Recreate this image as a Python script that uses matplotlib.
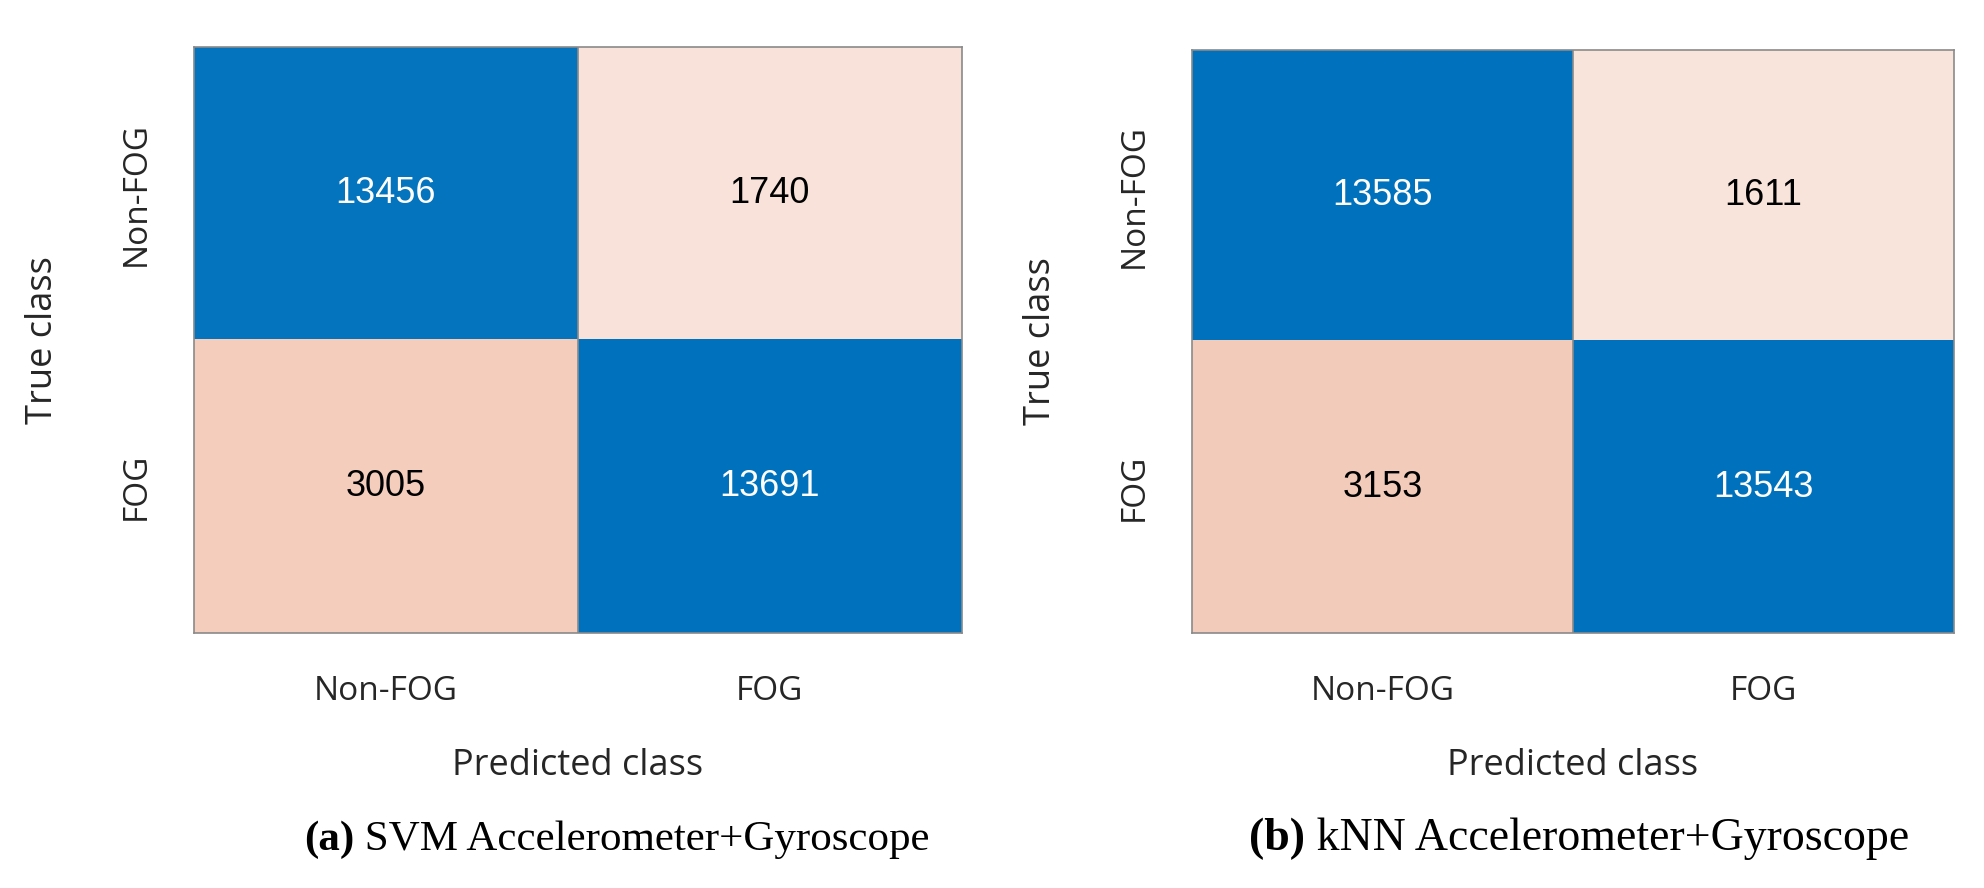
import numpy as np
import matplotlib
matplotlib.use("Agg")
import matplotlib.pyplot as plt
from matplotlib.colors import LinearSegmentedColormap, Normalize

# Confusion matrices (rows: true class, cols: predicted class)
class_labels = ["Non-FOG", "FOG"]
svm_counts = [[13456, 1740],
              [3005, 13691]]
knn_counts = [[13585, 1611],
              [3153, 13543]]
panel_tags = ["(a)", "(b)"]
panel_titles = [" SVM Accelerometer+Gyroscope", " kNN Accelerometer+Gyroscope"]
caption_centres = [0.311, 0.796]
caption_sizes = [31, 33]

BLUE = "#0072BD"
RED = "#D95319"
blue_cmap = LinearSegmentedColormap.from_list("diag", ["white", BLUE])
red_cmap = LinearSegmentedColormap.from_list("off", ["white", RED])

SANS = ["Open Sans", "DejaVu Sans"]
NUM = ["Liberation Sans", "DejaVu Sans"]
SERIF = ["Liberation Serif", "DejaVu Serif"]
TXT = "#262626"


def draw_confusion(ax, counts):
    cm = np.array(counts)
    n = cm.shape[0]
    diag_mask = np.eye(n, dtype=bool)
    diag = np.ma.masked_where(~diag_mask, cm)
    off = np.ma.masked_where(diag_mask, cm)
    ax.imshow(diag, cmap=blue_cmap, norm=Normalize(0, cm.max()), aspect="auto")
    ax.imshow(off, cmap=red_cmap, norm=Normalize(0, 10500), aspect="auto")

    for i in range(n):
        for j in range(n):
            color = "white" if i == j else "black"
            ax.text(j, i, str(cm[i, j]), ha="center", va="center",
                    color=color, fontsize=26, family=NUM)

    # thin cell separator
    ax.axvline(0.5, color="#8a8a8a", linewidth=1.2)

    ax.set_xticks(range(n))
    ax.set_yticks(range(n))
    ax.set_xticklabels(class_labels, family=SANS, fontsize=24, color=TXT)
    ax.set_yticklabels(class_labels, family=SANS, fontsize=24, color=TXT,
                       rotation=90, va="center")
    ax.tick_params(length=0)
    ax.tick_params(axis="y", pad=30)
    ax.tick_params(axis="x", pad=30)
    ax.set_xlabel("Predicted class", family=SANS, fontsize=26, color=TXT, labelpad=29)
    ax.set_ylabel("True class", family=SANS, fontsize=26, color=TXT, labelpad=42)
    for sp in ax.spines.values():
        sp.set_color("#8a8a8a")
        sp.set_linewidth(1.2)


fig = plt.figure(figsize=(19.84, 8.88), dpi=100)
ax1 = fig.add_axes([0.0978, 0.287, 0.387, 0.660])
ax2 = fig.add_axes([0.6008, 0.287, 0.384, 0.657])

for ax, counts, tag, title, cx, fs in zip([ax1, ax2], [svm_counts, knn_counts],
                                          panel_tags, panel_titles,
                                          caption_centres, caption_sizes):
    draw_confusion(ax, counts)
    fig.text(cx, 0.043, tag, ha="right", va="baseline", fontsize=fs,
             fontweight="bold", family=SERIF)
    fig.text(cx, 0.043, title, ha="left", va="baseline", fontsize=fs, family=SERIF)

# shift captions so the whole line is centred on its anchor
fig.canvas.draw()
renderer = fig.canvas.get_renderer()
texts = fig.texts
for k in range(0, len(texts), 2):
    a, b = texts[k], texts[k + 1]
    wa = a.get_window_extent(renderer).width / fig.bbox.width
    wb = b.get_window_extent(renderer).width / fig.bbox.width
    shift = (wa - wb) / 2
    a.set_x(a.get_position()[0] + shift)
    b.set_x(b.get_position()[0] + shift)

fig.savefig("out.png", dpi=100)
